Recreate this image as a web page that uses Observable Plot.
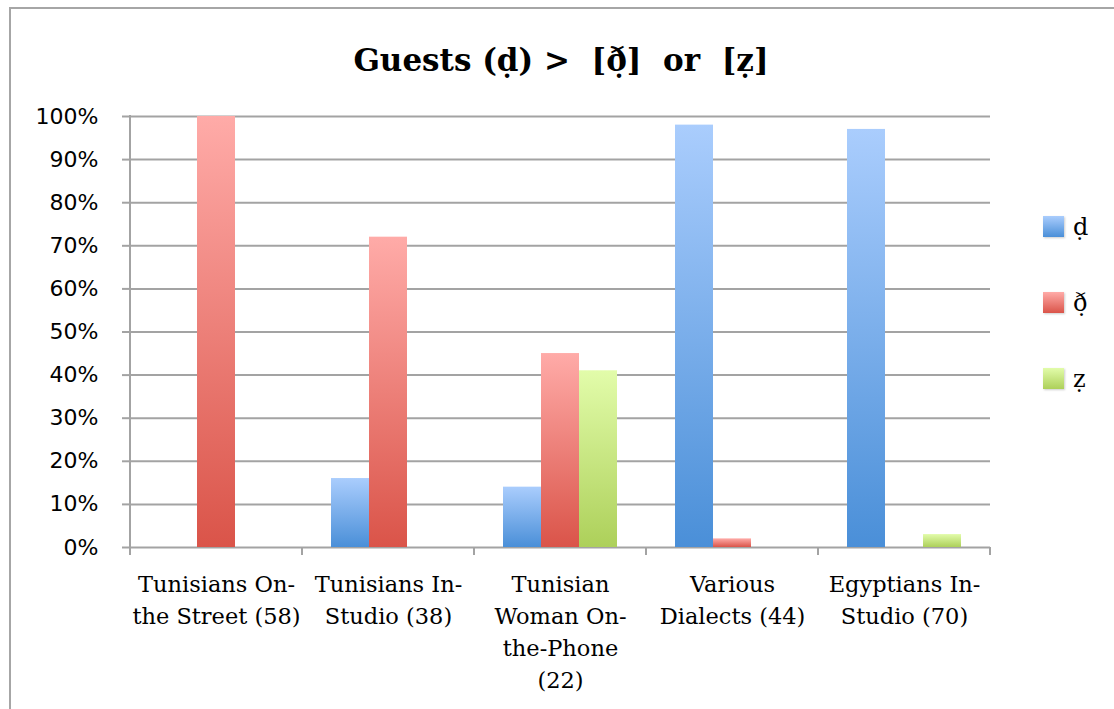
<!DOCTYPE html>
<html>
<head>
<meta charset="utf-8">
<script src="https://cdn.jsdelivr.net/npm/d3@7"></script>
<script src="https://cdn.jsdelivr.net/npm/@observablehq/plot@0.6"></script>
<style>
  body { margin: 0; background: #fff; }
  #chart { position: relative; width: 1114px; height: 709px; overflow: hidden; background: #fff; }
  #border { position: absolute; left: 9px; top: 7px; width: 1200px; height: 800px; border: 2px solid #a6a6a6; box-sizing: border-box; }
  #title { position: absolute; left: 128px; width: 866px; top: 42px; text-align: center; font: bold 31px "DejaVu Serif"; line-height: 36px; white-space: pre; color: #000; }
  #plot { position: absolute; left: 0; top: 100px; }
  #legend { position: absolute; left: 1043px; top: 216px; }
  .item { display: flex; align-items: center; height: 21px; margin-bottom: 55px; font: 24px "DejaVu Serif"; color: #000; }
  .sw { width: 21px; height: 21px; margin-right: 9px; box-shadow: 1px 1px 2px rgba(0,0,0,0.2); }
  g[aria-label="y-axis tick label"] text { font-family: "DejaVu Sans", sans-serif; font-size: 22px; }
  g[aria-label="fx-axis tick label"] text { font-family: "DejaVu Serif", serif; font-size: 22.5px; }
</style>
</head>
<body>
<div id="chart">
  <div id="border"></div>
  <div id="title"></div>
  <div id="plot"></div>
  <div id="legend"></div>
</div>
<script>
// Guest groups (token counts in parentheses)
const categories = [
  "Tunisians On-\nthe Street (58)",
  "Tunisians In-\nStudio (38)",
  "Tunisian\nWoman On-\nthe-Phone\n(22)",
  "Various\nDialects (44)",
  "Egyptians In-\nStudio (70)"
];
const seriesNames = ["ḍ", "ð̣", "ẓ"];
// Percent of realisations per group
const dValues  = [0, 16, 14, 98, 97];
const dhValues = [100, 72, 45, 2, 0];
const zValues  = [0, 0, 41, 0, 3];
const yTicks = [0, 10, 20, 30, 40, 50, 60, 70, 80, 90, 100];
const titleText = "Guests (ḍ) >  [ð̣]  or  [ẓ]";

// gradient stops (top, bottom) for each series
const gradients = [
  ["#aacdfd", "#4a8fd8"],
  ["#ffaba8", "#da5449"],
  ["#e2fcaa", "#add05a"]
];

const seriesValues = [dValues, dhValues, zValues];
const rows = [];
categories.forEach((category, i) => {
  seriesNames.forEach((series, j) => {
    const value = seriesValues[j][i];
    if (value > 0) rows.push({category, series, value});
  });
});

document.getElementById("title").textContent = titleText;

const plot = Plot.plot({
  width: 1114,
  height: 609,
  marginTop: 16,
  marginBottom: 162,
  marginLeft: 128,
  marginRight: 122,
  style: {background: "transparent", color: "#000", overflow: "visible"},
  fx: {domain: categories, padding: 0, label: null},
  x: {domain: seriesNames, paddingInner: 0, paddingOuter: 0.72, axis: null},
  y: {domain: [0, 100], label: null},
  color: {domain: seriesNames, range: seriesNames.map((_, i) => `url(#bar-grad-${i})`)},
  marks: [
    Plot.gridY({ticks: yTicks, stroke: "#a3a3a3", strokeOpacity: 1, strokeWidth: 2}),
    Plot.barY(rows, {
      fx: "category", x: "series", y: "value", fill: "series", inset: 0,
      style: {filter: "drop-shadow(1px 1px 2px rgba(0,0,0,0.25))"}
    }),
    Plot.axisY({
      ticks: yTicks, tickFormat: d => d + "%", tickSize: 8, tickPadding: 24,
      stroke: "#a3a3a3", strokeWidth: 2, fontSize: 22, label: null
    }),
    Plot.axisFx({
      anchor: "bottom", tickSize: 0, tickPadding: 22, fontSize: 22.5, lineHeight: 1.42,
      label: null, tickFormat: d => d
    })
  ]
});

// bar gradients
const svg = d3.select(plot);
const defs = svg.insert("defs", ":first-child");
gradients.forEach(([top, bottom], i) => {
  const g = defs.append("linearGradient")
    .attr("id", `bar-grad-${i}`)
    .attr("x1", 0).attr("y1", 0).attr("x2", 0).attr("y2", 1);
  g.append("stop").attr("offset", 0).attr("stop-color", top);
  g.append("stop").attr("offset", 1).attr("stop-color", bottom);
});

// y axis line and category boundary ticks, placed from the plot's scales
const fxScale = plot.scale("fx");
const yScale = plot.scale("y");
const yBase = yScale.apply(0), yTop = yScale.apply(100);
const bounds = categories.map(c => fxScale.apply(c));
bounds.push(fxScale.apply(categories[categories.length - 1]) + fxScale.bandwidth);
const axes = svg.append("g").attr("stroke", "#a3a3a3").attr("stroke-width", 2);
axes.append("line").attr("x1", bounds[0]).attr("x2", bounds[0]).attr("y1", yTop - 1).attr("y2", yBase);
bounds.forEach(x => {
  axes.append("line").attr("x1", x).attr("x2", x).attr("y1", yBase).attr("y2", yBase + 8);
});

document.getElementById("plot").appendChild(plot);

// legend
const legend = d3.select("#legend");
seriesNames.forEach((name, i) => {
  const item = legend.append("div").attr("class", "item");
  item.append("div").attr("class", "sw")
    .style("background", `linear-gradient(${gradients[i][0]}, ${gradients[i][1]})`);
  item.append("span").text(name);
});
</script>
</body>
</html>
